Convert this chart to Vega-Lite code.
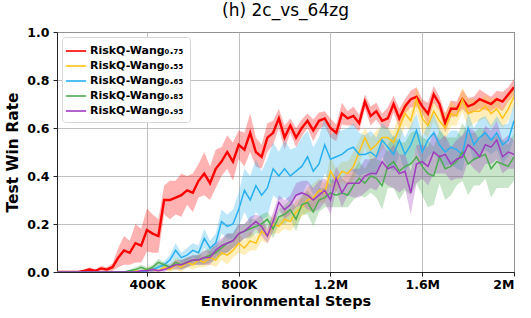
{
"$schema": "https://vega.github.io/schema/vega-lite/v6.json",
"width": 457, "height": 240,
"autosize": {"type": "none"},
"padding": {"left": 57, "top": 32, "right": 17, "bottom": 46},
"title": {"text": "(h) 2c_vs_64zg", "font": "DejaVu Sans", "fontSize": 17, "fontWeight": "normal", "offset": 6, "color": "black"},
"config": {
 "view": {"stroke": "#222", "strokeWidth": 1},
 "axis": {"labelFont": "DejaVu Sans", "labelFontWeight": "bold", "labelFontSize": 12.5, "labelColor": "black", "titleFont": "DejaVu Sans", "titleFontWeight": "bold", "titleColor": "black", "domainColor": "#222", "tickColor": "#222", "tickSize": 4, "gridColor": "#b0b0b0", "gridWidth": 1, "gridOpacity": 0.8},
 "legend": {"orient": "top-left", "offset": 5, "padding": 6, "fillColor": "white", "strokeColor": "#d6d6d6", "cornerRadius": 3, "labelFont": "DejaVu Sans", "labelFontWeight": "bold", "labelFontSize": 11, "labelColor": "black", "symbolType": "M-1.45,0H1.45", "symbolSize": 196, "symbolStrokeWidth": 2, "symbolOpacity": 0.8, "rowPadding": 2, "labelOffset": 6, "labelLimit": 200}
},
"data": {"values": [
{"g":"0.75","x":10000,"y":0,"e":0},{"g":"0.75","x":25000,"y":0,"e":0},{"g":"0.75","x":50000,"y":0,"e":0},{"g":"0.75","x":75000,"y":0,"e":0},{"g":"0.75","x":100000,"y":0,"e":0},
{"g":"0.75","x":125000,"y":0.005,"e":0.005},{"g":"0.75","x":150000,"y":0.01,"e":0.01},{"g":"0.75","x":175000,"y":0.005,"e":0.005},{"g":"0.75","x":200000,"y":0.015,"e":0.01},{"g":"0.75","x":225000,"y":0.01,"e":0.01},
{"g":"0.75","x":250000,"y":0.02,"e":0.015},{"g":"0.75","x":275000,"y":0.06,"e":0.04},{"g":"0.75","x":300000,"y":0.09,"e":0.06},{"g":"0.75","x":325000,"y":0.08,"e":0.05},{"g":"0.75","x":350000,"y":0.12,"e":0.08},
{"g":"0.75","x":375000,"y":0.11,"e":0.07},{"g":"0.75","x":400000,"y":0.175,"e":0.09},{"g":"0.75","x":425000,"y":0.16,"e":0.08},{"g":"0.75","x":450000,"y":0.15,"e":0.07},{"g":"0.75","x":475000,"y":0.30,"e":0.06},
{"g":"0.75","x":500000,"y":0.30,"e":0.08},{"g":"0.75","x":525000,"y":0.31,"e":0.07},{"g":"0.75","x":550000,"y":0.32,"e":0.09},{"g":"0.75","x":575000,"y":0.34,"e":0.06},{"g":"0.75","x":600000,"y":0.33,"e":0.08},
{"g":"0.75","x":625000,"y":0.38,"e":0.07},{"g":"0.75","x":650000,"y":0.41,"e":0.09},{"g":"0.75","x":675000,"y":0.37,"e":0.07},{"g":"0.75","x":700000,"y":0.43,"e":0.08},{"g":"0.75","x":725000,"y":0.46,"e":0.06},
{"g":"0.75","x":750000,"y":0.50,"e":0.07},{"g":"0.75","x":775000,"y":0.46,"e":0.08},{"g":"0.75","x":800000,"y":0.53,"e":0.06},{"g":"0.75","x":825000,"y":0.51,"e":0.07},{"g":"0.75","x":850000,"y":0.58,"e":0.08},
{"g":"0.75","x":875000,"y":0.50,"e":0.06},{"g":"0.75","x":900000,"y":0.48,"e":0.05},{"g":"0.75","x":925000,"y":0.56,"e":0.06},{"g":"0.75","x":950000,"y":0.58,"e":0.05},{"g":"0.75","x":975000,"y":0.64,"e":0.04},
{"g":"0.75","x":1000000,"y":0.56,"e":0.05},{"g":"0.75","x":1025000,"y":0.61,"e":0.03},{"g":"0.75","x":1050000,"y":0.56,"e":0.04},{"g":"0.75","x":1075000,"y":0.60,"e":0.035},{"g":"0.75","x":1100000,"y":0.63,"e":0.03},
{"g":"0.75","x":1125000,"y":0.59,"e":0.045},{"g":"0.75","x":1150000,"y":0.63,"e":0.035},{"g":"0.75","x":1175000,"y":0.64,"e":0.03},{"g":"0.75","x":1200000,"y":0.60,"e":0.04},{"g":"0.75","x":1225000,"y":0.58,"e":0.035},
{"g":"0.75","x":1250000,"y":0.66,"e":0.045},{"g":"0.75","x":1275000,"y":0.64,"e":0.03},{"g":"0.75","x":1300000,"y":0.65,"e":0.04},{"g":"0.75","x":1325000,"y":0.62,"e":0.035},{"g":"0.75","x":1350000,"y":0.71,"e":0.03},
{"g":"0.75","x":1375000,"y":0.65,"e":0.04},{"g":"0.75","x":1400000,"y":0.67,"e":0.035},{"g":"0.75","x":1425000,"y":0.63,"e":0.03},{"g":"0.75","x":1450000,"y":0.64,"e":0.045},{"g":"0.75","x":1475000,"y":0.70,"e":0.035},
{"g":"0.75","x":1500000,"y":0.64,"e":0.04},{"g":"0.75","x":1525000,"y":0.69,"e":0.03},{"g":"0.75","x":1550000,"y":0.72,"e":0.035},{"g":"0.75","x":1575000,"y":0.73,"e":0.04},{"g":"0.75","x":1600000,"y":0.69,"e":0.03},
{"g":"0.75","x":1625000,"y":0.66,"e":0.045},{"g":"0.75","x":1650000,"y":0.74,"e":0.035},{"g":"0.75","x":1675000,"y":0.70,"e":0.03},{"g":"0.75","x":1700000,"y":0.62,"e":0.04},{"g":"0.75","x":1725000,"y":0.68,"e":0.035},
{"g":"0.75","x":1750000,"y":0.68,"e":0.03},{"g":"0.75","x":1775000,"y":0.72,"e":0.04},{"g":"0.75","x":1800000,"y":0.69,"e":0.035},{"g":"0.75","x":1825000,"y":0.70,"e":0.03},{"g":"0.75","x":1850000,"y":0.72,"e":0.04},
{"g":"0.75","x":1875000,"y":0.71,"e":0.035},{"g":"0.75","x":1900000,"y":0.70,"e":0.03},{"g":"0.75","x":1925000,"y":0.72,"e":0.035},{"g":"0.75","x":1950000,"y":0.71,"e":0.04},{"g":"0.75","x":1975000,"y":0.74,"e":0.03},
{"g":"0.75","x":2000000,"y":0.77,"e":0.035},

{"g":"0.55","x":10000,"y":0,"e":0},{"g":"0.55","x":25000,"y":0,"e":0},{"g":"0.55","x":50000,"y":0,"e":0},{"g":"0.55","x":75000,"y":0,"e":0},{"g":"0.55","x":100000,"y":0,"e":0},
{"g":"0.55","x":125000,"y":0,"e":0},{"g":"0.55","x":150000,"y":0,"e":0},{"g":"0.55","x":175000,"y":0,"e":0},{"g":"0.55","x":200000,"y":0,"e":0},{"g":"0.55","x":225000,"y":0,"e":0},
{"g":"0.55","x":250000,"y":0,"e":0},{"g":"0.55","x":275000,"y":0,"e":0},{"g":"0.55","x":300000,"y":0,"e":0},{"g":"0.55","x":325000,"y":0,"e":0},{"g":"0.55","x":350000,"y":0.005,"e":0.005},
{"g":"0.55","x":375000,"y":0,"e":0},{"g":"0.55","x":400000,"y":0.01,"e":0.01},{"g":"0.55","x":425000,"y":0.01,"e":0.01},{"g":"0.55","x":450000,"y":0.005,"e":0.005},{"g":"0.55","x":475000,"y":0.02,"e":0.01},
{"g":"0.55","x":500000,"y":0.01,"e":0.01},{"g":"0.55","x":525000,"y":0.03,"e":0.02},{"g":"0.55","x":550000,"y":0.02,"e":0.02},{"g":"0.55","x":575000,"y":0.04,"e":0.02},{"g":"0.55","x":600000,"y":0.03,"e":0.02},
{"g":"0.55","x":625000,"y":0.05,"e":0.03},{"g":"0.55","x":650000,"y":0.04,"e":0.02},{"g":"0.55","x":675000,"y":0.06,"e":0.03},{"g":"0.55","x":700000,"y":0.05,"e":0.03},{"g":"0.55","x":725000,"y":0.08,"e":0.03},
{"g":"0.55","x":750000,"y":0.07,"e":0.04},{"g":"0.55","x":775000,"y":0.09,"e":0.03},{"g":"0.55","x":800000,"y":0.12,"e":0.04},{"g":"0.55","x":825000,"y":0.10,"e":0.03},{"g":"0.55","x":850000,"y":0.13,"e":0.04},
{"g":"0.55","x":875000,"y":0.12,"e":0.03},{"g":"0.55","x":900000,"y":0.17,"e":0.04},{"g":"0.55","x":925000,"y":0.15,"e":0.03},{"g":"0.55","x":950000,"y":0.20,"e":0.04},{"g":"0.55","x":975000,"y":0.19,"e":0.03},
{"g":"0.55","x":1000000,"y":0.22,"e":0.04},{"g":"0.55","x":1025000,"y":0.21,"e":0.04},{"g":"0.55","x":1050000,"y":0.25,"e":0.05},{"g":"0.55","x":1075000,"y":0.27,"e":0.04},{"g":"0.55","x":1100000,"y":0.30,"e":0.05},
{"g":"0.55","x":1125000,"y":0.31,"e":0.06},{"g":"0.55","x":1150000,"y":0.34,"e":0.05},{"g":"0.55","x":1175000,"y":0.33,"e":0.04},{"g":"0.55","x":1200000,"y":0.42,"e":0.06},{"g":"0.55","x":1225000,"y":0.38,"e":0.05},
{"g":"0.55","x":1250000,"y":0.42,"e":0.04},{"g":"0.55","x":1275000,"y":0.41,"e":0.05},{"g":"0.55","x":1300000,"y":0.44,"e":0.06},{"g":"0.55","x":1325000,"y":0.50,"e":0.05},{"g":"0.55","x":1350000,"y":0.56,"e":0.04},
{"g":"0.55","x":1375000,"y":0.51,"e":0.05},{"g":"0.55","x":1400000,"y":0.53,"e":0.06},{"g":"0.55","x":1425000,"y":0.56,"e":0.05},{"g":"0.55","x":1450000,"y":0.56,"e":0.04},{"g":"0.55","x":1475000,"y":0.54,"e":0.05},
{"g":"0.55","x":1500000,"y":0.60,"e":0.06},{"g":"0.55","x":1525000,"y":0.66,"e":0.05},{"g":"0.55","x":1550000,"y":0.63,"e":0.04},{"g":"0.55","x":1575000,"y":0.72,"e":0.05},{"g":"0.55","x":1600000,"y":0.64,"e":0.06},
{"g":"0.55","x":1625000,"y":0.61,"e":0.05},{"g":"0.55","x":1650000,"y":0.67,"e":0.04},{"g":"0.55","x":1675000,"y":0.63,"e":0.05},{"g":"0.55","x":1700000,"y":0.60,"e":0.06},{"g":"0.55","x":1725000,"y":0.66,"e":0.05},
{"g":"0.55","x":1750000,"y":0.65,"e":0.04},{"g":"0.55","x":1775000,"y":0.72,"e":0.05},{"g":"0.55","x":1800000,"y":0.66,"e":0.06},{"g":"0.55","x":1825000,"y":0.67,"e":0.05},{"g":"0.55","x":1850000,"y":0.67,"e":0.04},
{"g":"0.55","x":1875000,"y":0.69,"e":0.05},{"g":"0.55","x":1900000,"y":0.66,"e":0.06},{"g":"0.55","x":1925000,"y":0.68,"e":0.05},{"g":"0.55","x":1950000,"y":0.64,"e":0.04},{"g":"0.55","x":1975000,"y":0.68,"e":0.05},
{"g":"0.55","x":2000000,"y":0.73,"e":0.04},

{"g":"0.65","x":10000,"y":0,"e":0},{"g":"0.65","x":25000,"y":0,"e":0},{"g":"0.65","x":50000,"y":0,"e":0},{"g":"0.65","x":75000,"y":0,"e":0},{"g":"0.65","x":100000,"y":0,"e":0},
{"g":"0.65","x":125000,"y":0,"e":0},{"g":"0.65","x":150000,"y":0,"e":0},{"g":"0.65","x":175000,"y":0,"e":0},{"g":"0.65","x":200000,"y":0,"e":0},{"g":"0.65","x":225000,"y":0,"e":0},
{"g":"0.65","x":250000,"y":0,"e":0},{"g":"0.65","x":275000,"y":0,"e":0},{"g":"0.65","x":300000,"y":0,"e":0},{"g":"0.65","x":325000,"y":0,"e":0},{"g":"0.65","x":350000,"y":0,"e":0},
{"g":"0.65","x":375000,"y":0,"e":0},{"g":"0.65","x":400000,"y":0.005,"e":0.005},{"g":"0.65","x":425000,"y":0.01,"e":0.01},{"g":"0.65","x":450000,"y":0.02,"e":0.01},{"g":"0.65","x":475000,"y":0.03,"e":0.015},
{"g":"0.65","x":500000,"y":0.05,"e":0.02},{"g":"0.65","x":525000,"y":0.09,"e":0.03},{"g":"0.65","x":550000,"y":0.06,"e":0.02},{"g":"0.65","x":575000,"y":0.07,"e":0.03},{"g":"0.65","x":600000,"y":0.09,"e":0.03},
{"g":"0.65","x":625000,"y":0.08,"e":0.03},{"g":"0.65","x":650000,"y":0.14,"e":0.04},{"g":"0.65","x":675000,"y":0.10,"e":0.03},{"g":"0.65","x":700000,"y":0.12,"e":0.04},{"g":"0.65","x":725000,"y":0.21,"e":0.05},
{"g":"0.65","x":750000,"y":0.19,"e":0.05},{"g":"0.65","x":775000,"y":0.20,"e":0.06},{"g":"0.65","x":800000,"y":0.26,"e":0.07},{"g":"0.65","x":825000,"y":0.34,"e":0.09},{"g":"0.65","x":850000,"y":0.30,"e":0.10},
{"g":"0.65","x":875000,"y":0.36,"e":0.11},{"g":"0.65","x":900000,"y":0.32,"e":0.10},{"g":"0.65","x":925000,"y":0.35,"e":0.12},{"g":"0.65","x":950000,"y":0.43,"e":0.11},{"g":"0.65","x":975000,"y":0.40,"e":0.10},
{"g":"0.65","x":1000000,"y":0.43,"e":0.12},{"g":"0.65","x":1025000,"y":0.40,"e":0.11},{"g":"0.65","x":1050000,"y":0.42,"e":0.10},{"g":"0.65","x":1075000,"y":0.44,"e":0.12},{"g":"0.65","x":1100000,"y":0.48,"e":0.11},
{"g":"0.65","x":1125000,"y":0.42,"e":0.10},{"g":"0.65","x":1150000,"y":0.45,"e":0.11},{"g":"0.65","x":1175000,"y":0.53,"e":0.12},{"g":"0.65","x":1200000,"y":0.47,"e":0.10},{"g":"0.65","x":1225000,"y":0.48,"e":0.11},
{"g":"0.65","x":1250000,"y":0.49,"e":0.10},{"g":"0.65","x":1275000,"y":0.51,"e":0.09},{"g":"0.65","x":1300000,"y":0.52,"e":0.10},{"g":"0.65","x":1325000,"y":0.49,"e":0.09},{"g":"0.65","x":1350000,"y":0.49,"e":0.08},
{"g":"0.65","x":1375000,"y":0.50,"e":0.09},{"g":"0.65","x":1400000,"y":0.48,"e":0.08},{"g":"0.65","x":1425000,"y":0.55,"e":0.07},{"g":"0.65","x":1450000,"y":0.52,"e":0.08},{"g":"0.65","x":1475000,"y":0.49,"e":0.07},
{"g":"0.65","x":1500000,"y":0.55,"e":0.06},{"g":"0.65","x":1525000,"y":0.49,"e":0.07},{"g":"0.65","x":1550000,"y":0.53,"e":0.08},{"g":"0.65","x":1575000,"y":0.59,"e":0.07},{"g":"0.65","x":1600000,"y":0.50,"e":0.06},
{"g":"0.65","x":1625000,"y":0.55,"e":0.07},{"g":"0.65","x":1650000,"y":0.58,"e":0.08},{"g":"0.65","x":1675000,"y":0.53,"e":0.07},{"g":"0.65","x":1700000,"y":0.50,"e":0.06},{"g":"0.65","x":1725000,"y":0.52,"e":0.07},
{"g":"0.65","x":1750000,"y":0.51,"e":0.08},{"g":"0.65","x":1775000,"y":0.49,"e":0.07},{"g":"0.65","x":1800000,"y":0.60,"e":0.06},{"g":"0.65","x":1825000,"y":0.53,"e":0.07},{"g":"0.65","x":1850000,"y":0.56,"e":0.08},
{"g":"0.65","x":1875000,"y":0.58,"e":0.07},{"g":"0.65","x":1900000,"y":0.55,"e":0.06},{"g":"0.65","x":1925000,"y":0.58,"e":0.07},{"g":"0.65","x":1950000,"y":0.53,"e":0.08},{"g":"0.65","x":1975000,"y":0.55,"e":0.07},
{"g":"0.65","x":2000000,"y":0.63,"e":0.07},

{"g":"0.85","x":10000,"y":0,"e":0},{"g":"0.85","x":25000,"y":0,"e":0},{"g":"0.85","x":50000,"y":0,"e":0},{"g":"0.85","x":75000,"y":0,"e":0},{"g":"0.85","x":100000,"y":0,"e":0},
{"g":"0.85","x":125000,"y":0,"e":0},{"g":"0.85","x":150000,"y":0,"e":0},{"g":"0.85","x":175000,"y":0,"e":0},{"g":"0.85","x":200000,"y":0,"e":0},{"g":"0.85","x":225000,"y":0,"e":0},
{"g":"0.85","x":250000,"y":0,"e":0},{"g":"0.85","x":275000,"y":0,"e":0},{"g":"0.85","x":300000,"y":0,"e":0},{"g":"0.85","x":325000,"y":0.005,"e":0.005},{"g":"0.85","x":350000,"y":0.01,"e":0.01},
{"g":"0.85","x":375000,"y":0.02,"e":0.01},{"g":"0.85","x":400000,"y":0.01,"e":0.01},{"g":"0.85","x":425000,"y":0.02,"e":0.01},{"g":"0.85","x":450000,"y":0.04,"e":0.015},{"g":"0.85","x":475000,"y":0.03,"e":0.01},
{"g":"0.85","x":500000,"y":0.02,"e":0.01},{"g":"0.85","x":525000,"y":0.04,"e":0.02},{"g":"0.85","x":550000,"y":0.03,"e":0.02},{"g":"0.85","x":575000,"y":0.04,"e":0.02},{"g":"0.85","x":600000,"y":0.05,"e":0.02},
{"g":"0.85","x":625000,"y":0.05,"e":0.02},{"g":"0.85","x":650000,"y":0.06,"e":0.03},{"g":"0.85","x":675000,"y":0.07,"e":0.03},{"g":"0.85","x":700000,"y":0.08,"e":0.03},{"g":"0.85","x":725000,"y":0.10,"e":0.03},
{"g":"0.85","x":750000,"y":0.12,"e":0.04},{"g":"0.85","x":775000,"y":0.13,"e":0.03},{"g":"0.85","x":800000,"y":0.16,"e":0.04},{"g":"0.85","x":825000,"y":0.17,"e":0.03},{"g":"0.85","x":850000,"y":0.18,"e":0.04},
{"g":"0.85","x":875000,"y":0.19,"e":0.03},{"g":"0.85","x":900000,"y":0.20,"e":0.04},{"g":"0.85","x":925000,"y":0.22,"e":0.03},{"g":"0.85","x":950000,"y":0.18,"e":0.04},{"g":"0.85","x":975000,"y":0.23,"e":0.03},
{"g":"0.85","x":1000000,"y":0.24,"e":0.04},{"g":"0.85","x":1025000,"y":0.26,"e":0.04},{"g":"0.85","x":1050000,"y":0.22,"e":0.05},{"g":"0.85","x":1075000,"y":0.28,"e":0.04},{"g":"0.85","x":1100000,"y":0.29,"e":0.05},
{"g":"0.85","x":1125000,"y":0.25,"e":0.06},{"g":"0.85","x":1150000,"y":0.30,"e":0.05},{"g":"0.85","x":1175000,"y":0.31,"e":0.04},{"g":"0.85","x":1200000,"y":0.33,"e":0.06},{"g":"0.85","x":1225000,"y":0.32,"e":0.05},
{"g":"0.85","x":1250000,"y":0.33,"e":0.06},{"g":"0.85","x":1275000,"y":0.32,"e":0.05},{"g":"0.85","x":1300000,"y":0.36,"e":0.06},{"g":"0.85","x":1325000,"y":0.39,"e":0.07},{"g":"0.85","x":1350000,"y":0.37,"e":0.06},
{"g":"0.85","x":1375000,"y":0.40,"e":0.07},{"g":"0.85","x":1400000,"y":0.39,"e":0.08},{"g":"0.85","x":1425000,"y":0.36,"e":0.10},{"g":"0.85","x":1450000,"y":0.44,"e":0.09},{"g":"0.85","x":1475000,"y":0.46,"e":0.11},
{"g":"0.85","x":1500000,"y":0.42,"e":0.12},{"g":"0.85","x":1525000,"y":0.44,"e":0.10},{"g":"0.85","x":1550000,"y":0.45,"e":0.13},{"g":"0.85","x":1575000,"y":0.48,"e":0.11},{"g":"0.85","x":1600000,"y":0.44,"e":0.12},
{"g":"0.85","x":1625000,"y":0.41,"e":0.14},{"g":"0.85","x":1650000,"y":0.40,"e":0.12},{"g":"0.85","x":1675000,"y":0.48,"e":0.11},{"g":"0.85","x":1700000,"y":0.43,"e":0.13},{"g":"0.85","x":1725000,"y":0.44,"e":0.12},
{"g":"0.85","x":1750000,"y":0.46,"e":0.10},{"g":"0.85","x":1775000,"y":0.50,"e":0.12},{"g":"0.85","x":1800000,"y":0.45,"e":0.13},{"g":"0.85","x":1825000,"y":0.47,"e":0.11},{"g":"0.85","x":1850000,"y":0.48,"e":0.12},
{"g":"0.85","x":1875000,"y":0.49,"e":0.10},{"g":"0.85","x":1900000,"y":0.43,"e":0.12},{"g":"0.85","x":1925000,"y":0.46,"e":0.11},{"g":"0.85","x":1950000,"y":0.45,"e":0.10},{"g":"0.85","x":1975000,"y":0.44,"e":0.09},
{"g":"0.85","x":2000000,"y":0.48,"e":0.10},

{"g":"0.95","x":10000,"y":0,"e":0},{"g":"0.95","x":25000,"y":0,"e":0},{"g":"0.95","x":50000,"y":0,"e":0},{"g":"0.95","x":75000,"y":0,"e":0},{"g":"0.95","x":100000,"y":0,"e":0},
{"g":"0.95","x":125000,"y":0,"e":0},{"g":"0.95","x":150000,"y":0,"e":0},{"g":"0.95","x":175000,"y":0,"e":0},{"g":"0.95","x":200000,"y":0,"e":0},{"g":"0.95","x":225000,"y":0,"e":0},
{"g":"0.95","x":250000,"y":0,"e":0},{"g":"0.95","x":275000,"y":0,"e":0},{"g":"0.95","x":300000,"y":0,"e":0},{"g":"0.95","x":325000,"y":0,"e":0},{"g":"0.95","x":350000,"y":0,"e":0},
{"g":"0.95","x":375000,"y":0.005,"e":0.005},{"g":"0.95","x":400000,"y":0.005,"e":0.005},{"g":"0.95","x":425000,"y":0.01,"e":0.01},{"g":"0.95","x":450000,"y":0.005,"e":0.005},{"g":"0.95","x":475000,"y":0.01,"e":0.01},
{"g":"0.95","x":500000,"y":0.02,"e":0.01},{"g":"0.95","x":525000,"y":0.03,"e":0.02},{"g":"0.95","x":550000,"y":0.03,"e":0.02},{"g":"0.95","x":575000,"y":0.04,"e":0.02},{"g":"0.95","x":600000,"y":0.05,"e":0.02},
{"g":"0.95","x":625000,"y":0.05,"e":0.02},{"g":"0.95","x":650000,"y":0.06,"e":0.03},{"g":"0.95","x":675000,"y":0.06,"e":0.03},{"g":"0.95","x":700000,"y":0.09,"e":0.03},{"g":"0.95","x":725000,"y":0.11,"e":0.03},
{"g":"0.95","x":750000,"y":0.12,"e":0.04},{"g":"0.95","x":775000,"y":0.13,"e":0.03},{"g":"0.95","x":800000,"y":0.16,"e":0.04},{"g":"0.95","x":825000,"y":0.17,"e":0.03},{"g":"0.95","x":850000,"y":0.19,"e":0.04},
{"g":"0.95","x":875000,"y":0.21,"e":0.03},{"g":"0.95","x":900000,"y":0.19,"e":0.04},{"g":"0.95","x":925000,"y":0.15,"e":0.03},{"g":"0.95","x":950000,"y":0.21,"e":0.04},{"g":"0.95","x":975000,"y":0.29,"e":0.03},
{"g":"0.95","x":1000000,"y":0.26,"e":0.04},{"g":"0.95","x":1025000,"y":0.28,"e":0.04},{"g":"0.95","x":1050000,"y":0.32,"e":0.05},{"g":"0.95","x":1075000,"y":0.33,"e":0.05},{"g":"0.95","x":1100000,"y":0.32,"e":0.06},
{"g":"0.95","x":1125000,"y":0.30,"e":0.05},{"g":"0.95","x":1150000,"y":0.32,"e":0.06},{"g":"0.95","x":1175000,"y":0.34,"e":0.05},{"g":"0.95","x":1200000,"y":0.30,"e":0.06},{"g":"0.95","x":1225000,"y":0.39,"e":0.05},
{"g":"0.95","x":1250000,"y":0.33,"e":0.06},{"g":"0.95","x":1275000,"y":0.37,"e":0.05},{"g":"0.95","x":1300000,"y":0.37,"e":0.06},{"g":"0.95","x":1325000,"y":0.37,"e":0.06},{"g":"0.95","x":1350000,"y":0.40,"e":0.07},
{"g":"0.95","x":1375000,"y":0.41,"e":0.06},{"g":"0.95","x":1400000,"y":0.41,"e":0.07},{"g":"0.95","x":1425000,"y":0.46,"e":0.08},{"g":"0.95","x":1450000,"y":0.43,"e":0.07},{"g":"0.95","x":1475000,"y":0.44,"e":0.09},
{"g":"0.95","x":1500000,"y":0.41,"e":0.08},{"g":"0.95","x":1525000,"y":0.42,"e":0.07},{"g":"0.95","x":1550000,"y":0.33,"e":0.09},{"g":"0.95","x":1575000,"y":0.45,"e":0.08},{"g":"0.95","x":1600000,"y":0.46,"e":0.07},
{"g":"0.95","x":1625000,"y":0.44,"e":0.08},{"g":"0.95","x":1650000,"y":0.50,"e":0.09},{"g":"0.95","x":1675000,"y":0.48,"e":0.07},{"g":"0.95","x":1700000,"y":0.49,"e":0.08},{"g":"0.95","x":1725000,"y":0.45,"e":0.07},
{"g":"0.95","x":1750000,"y":0.47,"e":0.08},{"g":"0.95","x":1775000,"y":0.48,"e":0.09},{"g":"0.95","x":1800000,"y":0.53,"e":0.07},{"g":"0.95","x":1825000,"y":0.51,"e":0.08},{"g":"0.95","x":1850000,"y":0.48,"e":0.07},
{"g":"0.95","x":1875000,"y":0.53,"e":0.08},{"g":"0.95","x":1900000,"y":0.52,"e":0.07},{"g":"0.95","x":1925000,"y":0.55,"e":0.08},{"g":"0.95","x":1950000,"y":0.48,"e":0.07},{"g":"0.95","x":1975000,"y":0.50,"e":0.07},
{"g":"0.95","x":2000000,"y":0.49,"e":0.06}
]},
"resolve": {"legend": {"color": "independent"}},
"layer": [
 {
  "mark": {"type": "errorband", "opacity": 0.3, "clip": true},
  "encoding": {
   "x": {"field": "x", "type": "quantitative", "title": "Environmental Steps"},
   "y": {"field": "y", "type": "quantitative", "title": "Test Win Rate"},
   "yError": {"field": "e"},
   "color": {"field": "g", "type": "nominal", "legend": null}
  }
 },
 {
  "mark": {"type": "line", "clip": true},
  "encoding": {
   "x": {"field": "x", "type": "quantitative", "scale": {"domain": [8000, 2000000], "nice": false, "zero": false},
     "axis": {"title": "Environmental Steps", "titleFontSize": 14.5, "titlePadding": 4, "labelPadding": 2, "values": [400000, 800000, 1200000, 1600000, 2000000],
       "labelExpr": "datum.value >= 1000000 ? format(datum.value / 1000000, '.1~f') + 'M' : format(datum.value / 1000, 'd') + 'K'"}},
   "y": {"field": "y", "type": "quantitative", "scale": {"domain": [0, 1], "nice": false, "clamp": true},
     "axis": {"title": "Test Win Rate", "titleFontSize": 15.5, "titlePadding": 6, "labelPadding": 4, "values": [0, 0.2, 0.4, 0.6, 0.8, 1.0], "format": ".1f"}},
   "color": {"field": "g", "type": "nominal",
     "scale": {"domain": ["0.75", "0.55", "0.65", "0.85", "0.95"], "range": ["#ff0000", "#ffc21a", "#29b0f0", "#4cad50", "#a03cbe"]},
     "legend": {"title": null, "labelExpr": "'RiskQ-Wang' + (datum.label == '0.75' ? '₀.₇₅' : datum.label == '0.55' ? '₀.₅₅' : datum.label == '0.65' ? '₀.₆₅' : datum.label == '0.85' ? '₀.₈₅' : '₀.₉₅')"}},
   "strokeWidth": {"condition": {"test": "datum.g == '0.75'", "value": 2.4}, "value": 1.5}
  }
 }
]
}
